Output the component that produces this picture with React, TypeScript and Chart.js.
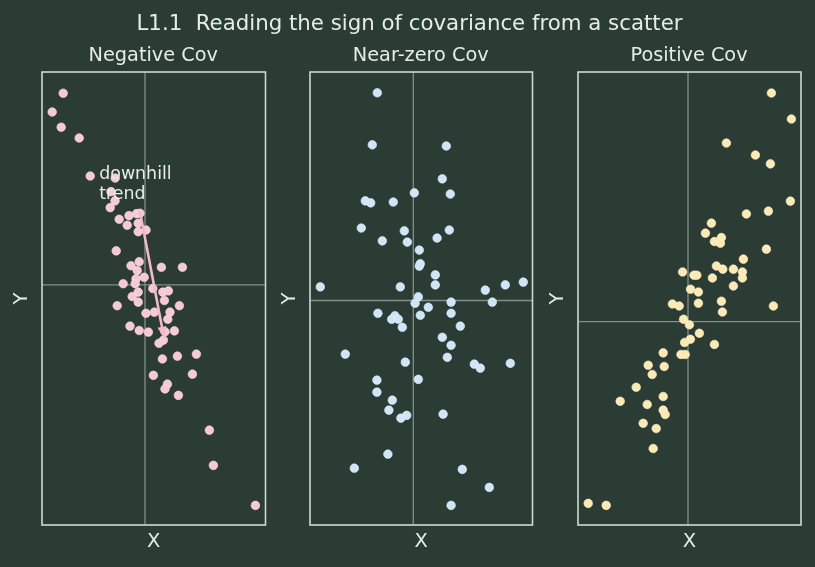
import { useEffect, useRef } from "react";
import { Chart, registerables } from "chart.js";

Chart.register(...registerables);

// ---- data (centred samples, one panel each) ----
const NEG_X = [
  -4.09, -4.64, -4.19, -3.29, -2.74, -1.49, -1.7, -1.5, -1.74, -1.29, -0.8, -0.42, -0.25, -0.89, -0.34,
  -0.34, 0.05, -1.44, -0.7, -0.29, -0.39, 0.82, 1.87, -0.04, -0.45, -1.09, -0.49, 0.39, 0.89, 1.17,
  -0.34, -0.64, 0.97, -1.39, -0.34, 1.72, 0.05, 0.47, 1.25, 1.14, -0.75, -0.29, 0.17, 1.47, 1.0,
  0.92, 0.7, 0.87, 1.62, 2.57, 0.42, 2.37, 1.12, 1.0, 1.67, 3.22, 3.42, 5.52,
];
const NEG_Y = [
  4.79, 4.32, 3.94, 3.67, 2.72, 2.67, 2.33, 2.1, 1.93, 1.64, 1.73, 1.78, 1.79, 1.49, 1.54,
  1.33, 1.37, 0.85, 0.48, 0.58, 0.36, 0.44, 0.44, 0.19, 0.15, 0.03, 0.03, -0.09, -0.18, -0.15,
  -0.18, -0.29, -0.39, -0.52, -0.43, -0.52, -0.71, -0.68, -0.68, -0.86, -1.03, -1.14, -1.18, -1.15, -1.17,
  -1.38, -1.46, -1.85, -1.78, -1.73, -2.26, -2.23, -2.48, -2.6, -2.76, -3.63, -4.51, -5.51,
];

const NEAR_X = [
  -1.8, -2.05, 1.65, 1.45, 0.05, 1.85, -2.4, -2.13, -1.0, -2.6, -0.45, 1.8, -1.55, -0.3, 1.19,
  0.3, 0.35, 0.3, 1.1, 1.1, -4.65, -0.65, 3.6, 4.6, 5.5, 0.25, 0.09, 0.75, 1.89, 3.95,
  -1.77, -0.92, -1.08, -0.75, -0.55, 0.35, 1.89, 2.35, 1.45, 1.89, 1.7, -3.4, -0.4, 3.05, 3.35,
  4.85, -1.82, 0.25, -1.82, -1.05, -1.22, -0.62, -0.33, 1.49, -1.27, -2.95, 2.45, 3.8, 1.89,
];
const NEAR_Y = [
  5.19, 3.89, 3.86, 3.04, 2.69, 2.66, 2.49, 2.44, 2.46, 1.81, 1.74, 1.76, 1.49, 1.46, 1.56,
  1.26, 0.92, 0.86, 0.64, 0.39, 0.34, 0.34, 0.26, 0.39, 0.46, 0.09, -0.07, -0.17, -0.04, -0.04,
  -0.32, -0.38, -0.47, -0.47, -0.67, -0.37, -0.32, -0.64, -0.92, -1.12, -1.42, -1.34, -1.54, -1.59, -1.69,
  -1.57, -1.99, -1.97, -2.29, -2.49, -2.74, -2.94, -2.87, -2.84, -3.84, -4.19, -4.22, -4.67, -5.12,
];

const POS_X = [
  4.17, 5.17, 1.92, 3.37, 4.12, 5.12, 2.92, 4.02, 1.17, 0.87, 1.67, 1.32, 1.62, 3.92, 2.77,
  1.42, 1.74, 2.27, 2.72, 2.72, -0.27, 0.3, 0.44, 1.22, 2.27, 0.13, 0.52, -0.78, -0.44, 0.52,
  1.67, 1.72, 4.27, -0.22, 0.07, 0.57, 0.12, -0.17, 1.32, -1.24, -0.35, -0.14, -1.99, -1.19, -1.79,
  -2.59, -1.24, -3.39, -2.04, -1.24, -1.14, -2.24, -1.59, -1.74, -4.99, -4.09,
];
const POS_Y = [
  5.71, 5.06, 4.46, 4.16, 3.94, 3.01, 2.69, 2.76, 2.46, 2.21, 2.1, 2.0, 1.96, 1.81, 1.56,
  1.39, 1.31, 1.31, 1.24, 1.09, 1.24, 1.16, 1.16, 1.09, 0.89, 0.81, 0.74, 0.44, 0.39, 0.46,
  0.51, 0.24, 0.39, 0.06, -0.08, -0.29, -0.44, -0.52, -0.57, -0.78, -0.82, -0.82, -1.09, -1.12, -1.32,
  -1.64, -1.87, -1.99, -2.07, -2.21, -2.32, -2.54, -2.67, -3.17, -4.54, -4.59,
];

const PANEL_TITLES = ["Negative Cov", "Near-zero Cov", "Positive Cov"];
const MEAN_X = [0, 0, 0];
const MEAN_Y = [0, 0, 0];
const X_MIN = [-5.15, -5.165, -5.5];
const X_MAX = [6.025, 5.96, 5.65];
const Y_MIN = [-6.0, -5.61, -5.08];
const Y_MAX = [5.32, 5.71, 6.235];

// annotation on the first panel
const NOTE_LINES = ["downhill", "trend"];
const NOTE_AT = [-2.29, 2.65];
const ARROW_FROM = [-0.25, 1.83];
const ARROW_TO = [0.95, -1.32];

const SUPTITLE = "L1.1  Reading the sign of covariance from a scatter";

// ---- styling / layout ----
const W = 815;
const H = 567;
const BG = "#2b3c34";
const TEXT = "#e6ece6";
const FRAME = "#cddad1";
const CROSS = "rgba(200,214,205,0.55)";
const POINT_COLORS = ["#f8c8d7", "#cfe5f8", "#fdeab2"];
const POINT_EDGES = ["#fbe0e8", "#e6f2fc", "#fff4d6"];
const ARROW_COLOR = "#f5b9cb";
const AREA_LEFT = [42, 310, 578];
const AREA_RIGHT = [265.5, 532.5, 801];
const AREA_TOP = 72;
const AREA_BOTTOM = 525;
const FONT = "'DejaVu Sans', sans-serif";

const SERIES = [
  [NEG_X, NEG_Y],
  [NEAR_X, NEAR_Y],
  [POS_X, POS_Y],
];

function decorPlugin(idx: number) {
  return {
    id: "panelDecor" + idx,
    beforeDatasetsDraw(chart: any) {
      const { ctx, chartArea: a, scales } = chart;
      const mx = scales.x.getPixelForValue(MEAN_X[idx]);
      const my = scales.y.getPixelForValue(MEAN_Y[idx]);
      ctx.save();
      ctx.strokeStyle = CROSS;
      ctx.lineWidth = 1.3;
      ctx.beginPath();
      ctx.moveTo(mx, a.top);
      ctx.lineTo(mx, a.bottom);
      ctx.moveTo(a.left, my);
      ctx.lineTo(a.right, my);
      ctx.stroke();
      ctx.restore();
    },
    afterDatasetsDraw(chart: any) {
      const { ctx, chartArea: a, scales } = chart;
      const cx = (a.left + a.right) / 2;
      const cy = (a.top + a.bottom) / 2;
      ctx.save();

      // frame
      ctx.strokeStyle = FRAME;
      ctx.lineWidth = 1.6;
      ctx.strokeRect(a.left, a.top, a.right - a.left, a.bottom - a.top);

      if (idx === 0) {
        // trend arrow
        const x0 = scales.x.getPixelForValue(ARROW_FROM[0]);
        const y0 = scales.y.getPixelForValue(ARROW_FROM[1]);
        const x1 = scales.x.getPixelForValue(ARROW_TO[0]);
        const y1 = scales.y.getPixelForValue(ARROW_TO[1]);
        const ang = Math.atan2(y1 - y0, x1 - x0);
        const headLen = 11;
        const headW = 4.5;
        const bx = x1 - headLen * Math.cos(ang);
        const by = y1 - headLen * Math.sin(ang);
        ctx.strokeStyle = ARROW_COLOR;
        ctx.fillStyle = ARROW_COLOR;
        ctx.lineWidth = 2.6;
        ctx.beginPath();
        ctx.moveTo(x0, y0);
        ctx.lineTo(bx, by);
        ctx.stroke();
        ctx.beginPath();
        ctx.moveTo(x1, y1);
        ctx.lineTo(bx - headW * Math.sin(ang), by + headW * Math.cos(ang));
        ctx.lineTo(bx + headW * Math.sin(ang), by - headW * Math.cos(ang));
        ctx.closePath();
        ctx.fill();

        // note text
        ctx.fillStyle = TEXT;
        ctx.font = `17.4px ${FONT}`;
        ctx.textAlign = "left";
        ctx.textBaseline = "alphabetic";
        const tx = scales.x.getPixelForValue(NOTE_AT[0]);
        const ty = scales.y.getPixelForValue(NOTE_AT[1]);
        NOTE_LINES.forEach((line, i) => ctx.fillText(line, tx, ty + i * 20.5));

        // figure title
        ctx.font = `21.3px ${FONT}`;
        ctx.textAlign = "center";
        ctx.fillText(SUPTITLE, 409.5, 30);
      }

      ctx.fillStyle = TEXT;
      ctx.textAlign = "center";
      ctx.textBaseline = "alphabetic";
      ctx.font = `19.3px ${FONT}`;
      ctx.fillText(PANEL_TITLES[idx], cx - 0.5, a.top - 11.5);

      ctx.font = `19.5px ${FONT}`;
      ctx.textBaseline = "middle";
      ctx.fillText("X", cx, a.bottom + 17);
      ctx.translate(a.left - 20.5, cy);
      ctx.rotate(-Math.PI / 2);
      ctx.fillText("Y", 0, 0);
      ctx.restore();
    },
  };
}

function Panel({ idx }: { idx: number }) {
  const ref = useRef<HTMLCanvasElement>(null);
  useEffect(() => {
    if (!ref.current) return;
    const [xs, ys] = SERIES[idx];
    const chart = new Chart(ref.current, {
      type: "scatter",
      data: {
        datasets: [
          {
            data: xs.map((x, i) => ({ x, y: ys[i] })),
            pointRadius: 4.3,
            pointBackgroundColor: POINT_COLORS[idx],
            pointBorderColor: POINT_EDGES[idx],
            pointBorderWidth: 0.6,
            clip: false,
          } as any,
        ],
      },
      options: {
        responsive: false,
        animation: false,
        events: [],
        layout: {
          padding: {
            left: AREA_LEFT[idx],
            right: W - AREA_RIGHT[idx],
            top: AREA_TOP,
            bottom: H - AREA_BOTTOM,
          },
        },
        plugins: {
          legend: { display: false },
          tooltip: { enabled: false },
          title: { display: false },
        },
        scales: {
          x: { type: "linear", display: false, min: X_MIN[idx], max: X_MAX[idx] },
          y: { type: "linear", display: false, min: Y_MIN[idx], max: Y_MAX[idx] },
        },
      },
      plugins: [decorPlugin(idx)],
    });
    return () => chart.destroy();
  }, [idx]);
  return (
    <canvas
      ref={ref}
      width={W}
      height={H}
      style={{ position: "absolute", left: 0, top: 0, width: W, height: H }}
    />
  );
}

export default function App() {
  return (
    <div
      style={{
        position: "fixed",
        left: 0,
        top: 0,
        width: W,
        height: H,
        background: BG,
        overflow: "hidden",
      }}
    >
      <Panel idx={0} />
      <Panel idx={1} />
      <Panel idx={2} />
    </div>
  );
}
